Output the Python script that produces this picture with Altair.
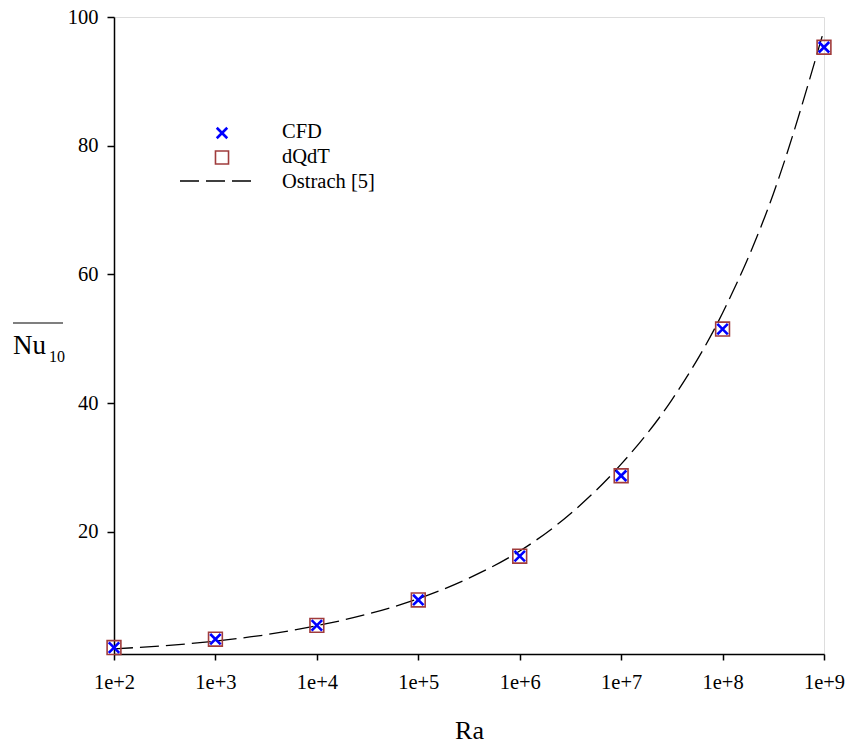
import altair as alt
import pandas as pd

# Data
ra_points = [1e2, 1e3, 1e4, 1e5, 1e6, 1e7, 1e8, 1e9]
nu_cfd = [2.0, 3.3, 5.45, 9.4, 16.2, 28.7, 51.5, 95.3]
nu_dqdt = [2.0, 3.3, 5.45, 9.4, 16.2, 28.7, 51.5, 95.3]

ra_line = [1e2, 10**2.5, 1e3, 10**3.5, 1e4, 10**4.5, 1e5, 10**5.5, 1e6,
           10**6.5, 1e7, 10**7.5, 1e8, 10**8.5, 1e9]
nu_ostrach = [1.8, 2.3, 3.0, 4.0, 5.4, 7.2, 9.6, 12.8, 17.0,
              22.8, 30.5, 40.5, 54.0, 72.5, 98.0]

x_ticks = [1e2, 1e3, 1e4, 1e5, 1e6, 1e7, 1e8, 1e9]
y_ticks = [20, 40, 60, 80, 100]

pts = pd.DataFrame({"Ra": ra_points, "CFD": nu_cfd, "dQdT": nu_dqdt})
line_df = pd.DataFrame({"Ra": ra_line, "Nu": nu_ostrach})

FONT = "Liberation Serif"

xscale = alt.Scale(type="log", domain=[1e2, 1e9], nice=False)
yscale = alt.Scale(domain=[1, 100], nice=False, zero=False)

xaxis = alt.Axis(values=x_ticks, labelExpr="'1e+' + round(log(datum.value)/LN10)",
                 title="Ra", titleFontSize=26, titleFont=FONT, titleFontWeight="normal",
                 titleY=84, titleBaseline="alphabetic",
                 labelFontSize=20.5, labelFont=FONT, tickSize=6, labelPadding=12,
                 grid=False, domainColor="black", tickColor="black", labelColor="black",
                 titleColor="black", domainWidth=1.5, tickWidth=1.5, labelFlush=False)
yaxis = alt.Axis(values=y_ticks, title=None, labelFontSize=20.5, labelFont=FONT,
                 tickSize=7, labelPadding=9, grid=False, domainColor="black",
                 tickColor="black", labelColor="black", domainWidth=1.5, tickWidth=1.5)

ostrach = alt.Chart(line_df).mark_line(
    color="black", strokeWidth=1.3, strokeDash=[19, 7], interpolate="monotone"
).encode(
    x=alt.X("Ra:Q", scale=xscale, axis=xaxis),
    y=alt.Y("Nu:Q", scale=yscale, axis=yaxis),
)

squares = alt.Chart(pts).mark_point(
    shape="square", filled=False, stroke="#A03C3C", strokeWidth=1.6, size=190, opacity=1
).encode(
    x=alt.X("Ra:Q", scale=xscale),
    y=alt.Y("dQdT:Q", scale=yscale),
)

crosses = alt.Chart(pts).mark_point(
    shape="M-1,-1L1,1M1,-1L-1,1", filled=False, stroke="#0000FF", strokeWidth=2.6,
    size=110, opacity=1
).encode(
    x=alt.X("Ra:Q", scale=xscale),
    y=alt.Y("CFD:Q", scale=yscale),
)

one = alt.Data(values=[{"a": 1}])

leg_cross = alt.Chart(one).mark_point(
    shape="M-1,-1L1,1M1,-1L-1,1", filled=False, stroke="#0000FF", strokeWidth=2.6,
    size=110, opacity=1
).encode(x=alt.value(108), y=alt.value(116))
leg_square = alt.Chart(one).mark_point(
    shape="square", filled=False, stroke="#A03C3C", strokeWidth=1.6, size=170, opacity=1
).encode(x=alt.value(108), y=alt.value(140.5))
leg_line = alt.Chart(one).mark_rule(
    color="black", strokeWidth=1.3, strokeDash=[19, 7]
).encode(x=alt.value(66), x2=alt.value(138), y=alt.value(164))

def label(txt, y):
    return alt.Chart(one).mark_text(
        text=txt, font=FONT, fontSize=20.5, align="left", baseline="middle", color="black"
    ).encode(x=alt.value(168), y=alt.value(y))

leg_t1 = label("CFD", 115)
leg_t2 = label("dQdT", 140)
leg_t3 = label("Ostrach [5]", 165)

nu_text = alt.Chart(one).mark_text(
    text="Nu", font=FONT, fontSize=27, align="left", baseline="alphabetic", color="black"
).encode(x=alt.value(-101), y=alt.value(337))
sub_text = alt.Chart(one).mark_text(
    text="10", font=FONT, fontSize=16, align="left", baseline="alphabetic", color="black"
).encode(x=alt.value(-65), y=alt.value(345))
overline = alt.Chart(one).mark_rule(color="black", strokeWidth=1.1).encode(
    x=alt.value(-101), x2=alt.value(-51), y=alt.value(306)
)

chart = alt.layer(
    ostrach, squares, crosses,
    leg_cross, leg_square, leg_line, leg_t1, leg_t2, leg_t3,
    nu_text, sub_text, overline,
).properties(
    width=710, height=637,
    autosize=alt.AutoSizeParams(type="none"),
    padding={"left": 114, "top": 17, "right": 23, "bottom": 92},
).configure_view(
    stroke="black", strokeWidth=1.5
).configure(background="white")

chart.save("out.html", embed_options={"renderer": "svg", "actions": False})
